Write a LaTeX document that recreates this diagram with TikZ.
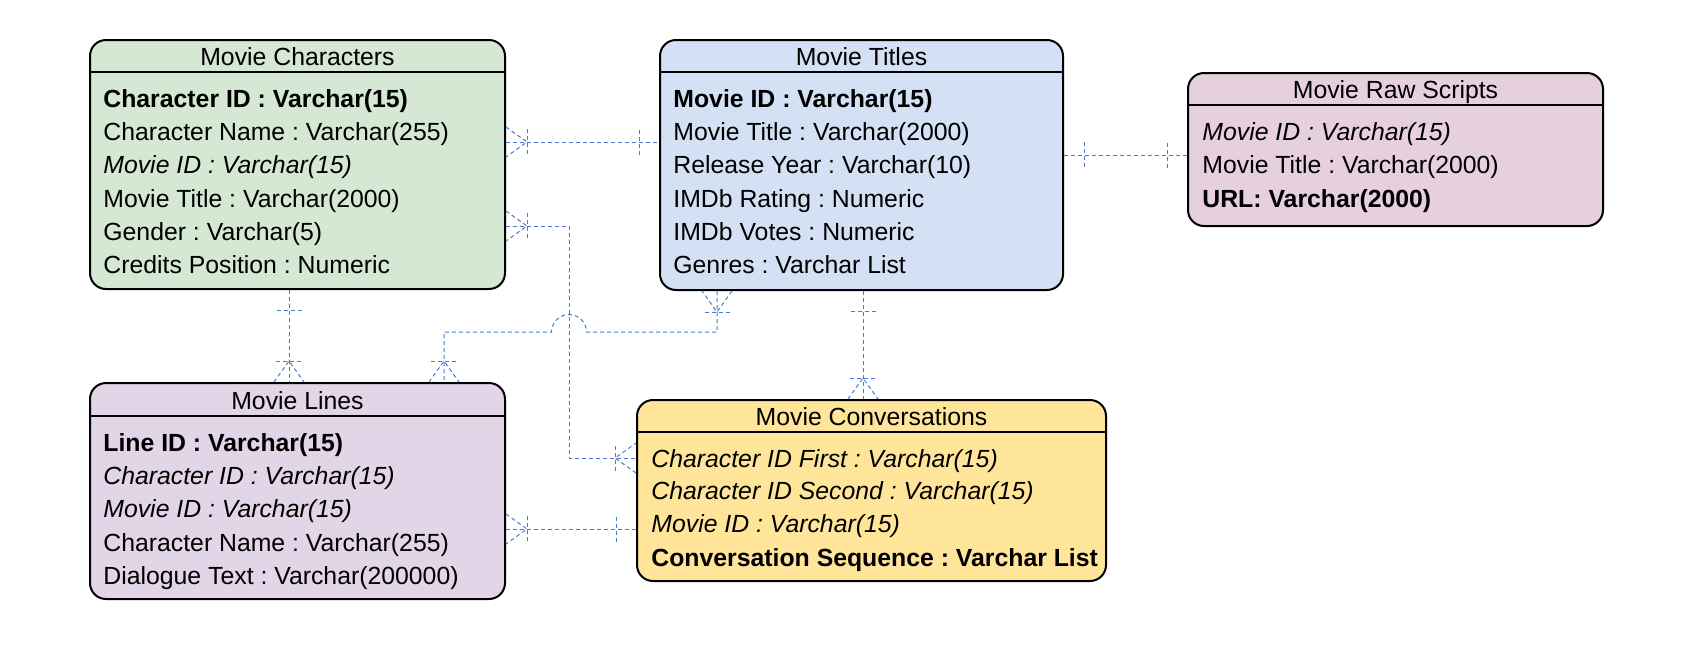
\documentclass[tikz,border=0pt]{standalone}
\usepackage{fontspec}
\setmainfont{Liberation Sans}
\usetikzlibrary{fit}
\frenchspacing
\definecolor{charsFill}{HTML}{D5E8D4}
\definecolor{titlesFill}{HTML}{D4E1F5}
\definecolor{rawFill}{HTML}{E6D0DE}
\definecolor{linesFill}{HTML}{E1D5E7}
\definecolor{convFill}{HTML}{FFE599}
\definecolor{relBlue}{RGB}{74,122,208}

\begin{document}
\begin{tikzpicture}[x=0.5pt,y=0.5pt,yscale=-1,xscale=1,
  tbl/.style={draw, line width=1pt, rounded corners=8pt, inner sep=0pt},
  head/.style={anchor=base, inner sep=0pt, font=\fontsize{12.4}{15}\selectfont},
  field/.style={anchor=base west, inner sep=0pt, font=\fontsize{12.4}{15}\selectfont},
  rel/.style={draw=relBlue, line width=0.5pt, dash pattern=on 2pt off 1.5pt},
  crow/.pic={\draw[rel] (0,15) -- (21,0) -- (0,-15); \draw[rel] (21,13) -- (21,-13);},
  one/.pic={\draw[rel] (20,13) -- (20,-13);}]
\useasboundingbox (0,0) rectangle (1702,660);

%Tables
\node[tbl, fill=charsFill, fit={(90,40) (505,289)}] (chars) {};
\node[tbl, fill=titlesFill, fit={(660,40) (1063,290)}] (titles) {};
\node[tbl, fill=rawFill, fit={(1188,73) (1603,226)}] (raw) {};
\node[tbl, fill=linesFill, fit={(90,383) (505,599)}] (lines) {};
\node[tbl, fill=convFill, fit={(637,400) (1106,581)}] (conv) {};

%Header lines
\draw [line width=1pt] (chars.west |- 0,71.5) -- (chars.east |- 0,71.5);
\draw [line width=1pt] (titles.west |- 0,72) -- (titles.east |- 0,72);
\draw [line width=1pt] (raw.west |- 0,105) -- (raw.east |- 0,105);
\draw [line width=1pt] (lines.west |- 0,416) -- (lines.east |- 0,416);
\draw [line width=1pt] (conv.west |- 0,432) -- (conv.east |- 0,432);

% Movie Characters
\node[head] (charsHead) at (297.5,65) {Movie Characters};
\node[field] (chars1) at (103,107) {\bfseries Character ID : Varchar(15)};
\node[field] (chars2) at (103,140) {Character Name : Varchar(255)};
\node[field] (chars3) at (103,173) {\itshape Movie ID : Varchar(15)};
\node[field] (chars4) at (103,207) {Movie Title : Varchar(2000)};
\node[field] (chars5) at (103,240) {Gender : Varchar(5)};
\node[field] (chars6) at (103,273) {Credits Position : Numeric};

% Movie Titles
\node[head] (titlesHead) at (861.5,65) {Movie Titles};
\node[field] (titles1) at (673,107) {\bfseries Movie ID : Varchar(15)};
\node[field] (titles2) at (673,140) {Movie Title : Varchar(2000)};
\node[field] (titles3) at (673,173) {Release Year : Varchar(10)};
\node[field] (titles4) at (673,207) {IMDb Rating : Numeric};
\node[field] (titles5) at (673,240) {IMDb Votes : Numeric};
\node[field] (titles6) at (673,273) {Genres : Varchar List};

% Movie Raw Scripts
\node[head] (rawHead) at (1395.5,98) {Movie Raw Scripts};
\node[field] (raw1) at (1202,140) {\itshape Movie ID : Varchar(15)};
\node[field] (raw2) at (1202,173) {Movie Title : Varchar(2000)};
\node[field] (raw3) at (1202,207) {\bfseries URL: Varchar(2000)};

% Movie Lines
\node[head] (linesHead) at (297.5,409) {Movie Lines};
\node[field] (lines1) at (103,451) {\bfseries Line ID : Varchar(15)};
\node[field] (lines2) at (103,484) {\itshape Character ID : Varchar(15)};
\node[field] (lines3) at (103,517) {\itshape Movie ID : Varchar(15)};
\node[field] (lines4) at (103,551) {Character Name : Varchar(255)};
\node[field] (lines5) at (103,584) {Dialogue Text : Varchar(200000)};

% Movie Conversations
\node[head] (convHead) at (871.5,425) {Movie Conversations};
\node[field] (conv1) at (651,467) {\itshape Character ID First : Varchar(15)};
\node[field] (conv2) at (651,499) {\itshape Character ID Second : Varchar(15)};
\node[field] (conv3) at (651,532) {\itshape Movie ID : Varchar(15)};
\node[field] (conv4) at (651,566) {\bfseries Conversation Sequence : Varchar List};

%Relations
\coordinate (bend) at (569,458);
\draw[rel] (chars.east |- 0,142) -- (titles.west |- 0,142);
\pic at (chars.east |- 0,142) {crow};
\pic[rotate=180] at (titles.west |- 0,142) {one};

\draw[rel] (titles.east |- 0,155) -- (raw.west |- 0,155);
\pic at (titles.east |- 0,155) {one};
\pic[rotate=180] at (raw.west |- 0,155) {one};

\draw[rel] (chars.east |- 0,226) -| (bend) -- (conv.west |- bend);
\pic at (chars.east |- 0,226) {crow};
\pic[rotate=180] at (conv.west |- bend) {crow};

\draw[rel] (chars.south -| 289,0) -- (lines.north -| 289,0);
\pic[rotate=-90] at (chars.south -| 289,0) {one};
\pic[rotate=90] at (lines.north -| 289,0) {crow};

\draw[rel] (titles.south -| 717,0) -- (717,332) -- (586.5,332)
  arc[start angle=0, end angle=-180, radius=17.5] -- (444,332) -- (lines.north -| 444,0);
\pic[rotate=-90] at (titles.south -| 717,0) {crow};
\pic[rotate=90] at (lines.north -| 444,0) {crow};

\draw[rel] (titles.south -| 863,0) -- (conv.north -| 863,0);
\pic[rotate=-90] at (titles.south -| 863,0) {one};
\pic[rotate=90] at (conv.north -| 863,0) {crow};

\draw[rel] (lines.east |- 0,529) -- (conv.west |- 0,529);
\pic at (lines.east |- 0,529) {crow};
\pic[rotate=180] at (conv.west |- 0,529) {one};

\end{tikzpicture}
\end{document}
